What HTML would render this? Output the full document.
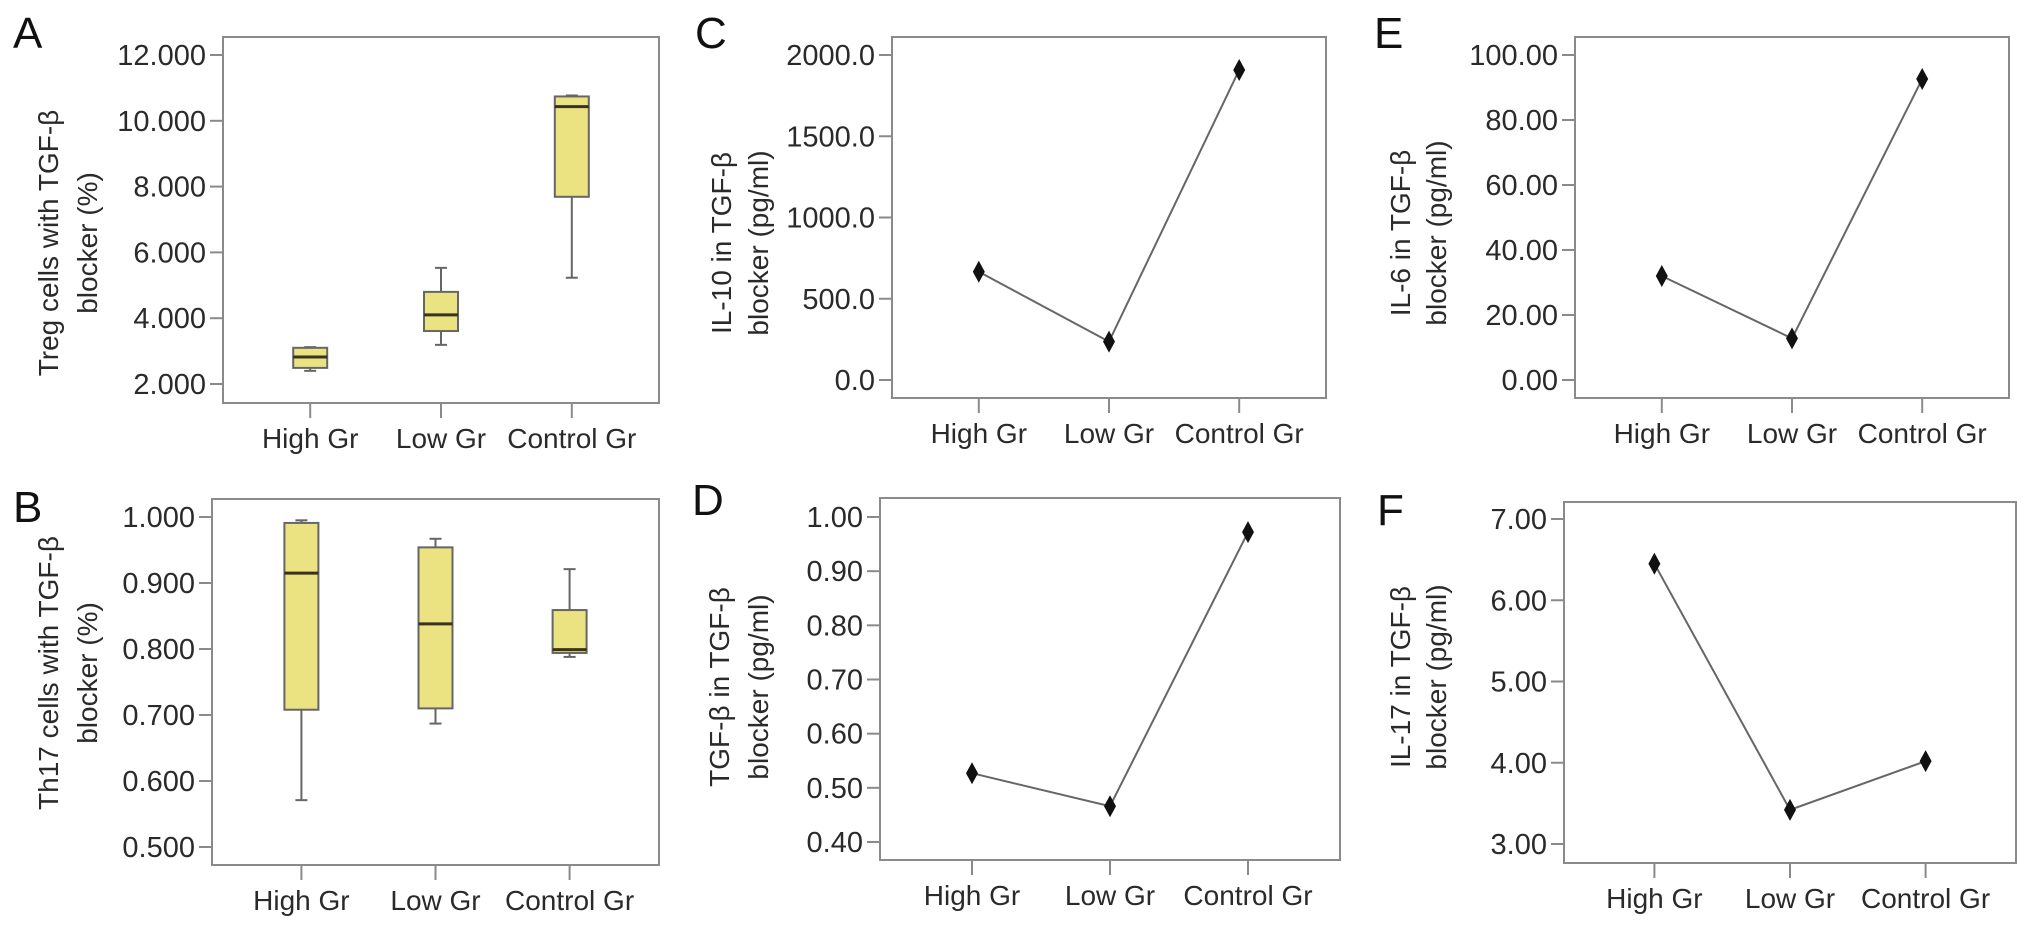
<!DOCTYPE html>
<html><head><meta charset="utf-8"><style>
html,body{margin:0;padding:0;background:#fff;}
svg{display:block;font-family:"Liberation Sans",Arial,sans-serif;}
</style></head><body>
<svg id="fig" width="2032" height="927" viewBox="0 0 2032 927" xmlns="http://www.w3.org/2000/svg"></svg>
<script>
const categories = ["High Gr","Low Gr","Control Gr"];
// Panel A box stats: [whiskerLow, q1, median, q3, whiskerHigh]
const treg = [[2.40,2.49,2.82,3.10,3.12],[3.19,3.61,4.10,4.80,5.53],[5.23,7.69,10.43,10.74,10.77]];
const tregTicks = ["2.000","4.000","6.000","8.000","10.000","12.000"];
const tregTickVals = [2,4,6,8,10,12];
// Panel B
const th17 = [[0.571,0.708,0.915,0.991,0.995],[0.687,0.710,0.838,0.954,0.967],[0.788,0.794,0.799,0.859,0.921]];
const th17Ticks = ["0.500","0.600","0.700","0.800","0.900","1.000"];
const th17TickVals = [0.5,0.6,0.7,0.8,0.9,1.0];
// Line panels
const il10 = [666,236,1908];
const il10Ticks = ["0.0","500.0","1000.0","1500.0","2000.0"];
const il10TickVals = [0,500,1000,1500,2000];
const tgfb = [0.527,0.466,0.972];
const tgfbTicks = ["0.40","0.50","0.60","0.70","0.80","0.90","1.00"];
const tgfbTickVals = [0.4,0.5,0.6,0.7,0.8,0.9,1.0];
const il6 = [32.0,12.8,92.6];
const il6Ticks = ["0.00","20.00","40.00","60.00","80.00","100.00"];
const il6TickVals = [0,20,40,60,80,100];
const il17 = [6.45,3.42,4.02];
const il17Ticks = ["3.00","4.00","5.00","6.00","7.00"];
const il17TickVals = [3,4,5,6,7];

const NS="http://www.w3.org/2000/svg";
const svg=document.getElementById('fig');
function el(tag,attrs,parent){const e=document.createElementNS(NS,tag);for(const k in attrs)e.setAttribute(k,attrs[k]);(parent||svg).appendChild(e);return e;}

function panel(cfg){
  const g=el('g',{});
  
  
  const L=cfg.frame[0],R=cfg.frame[1],T=cfg.frame[2],B=cfg.frame[3];
  const y=v=>cfg.yr[0]+(v-cfg.yv[0])*(cfg.yr[1]-cfg.yr[0])/(cfg.yv[1]-cfg.yv[0]);
  const x=i=>L+(R-L)*(0.2+0.3*i);
  const fr=el('rect',{x:L,y:T,width:R-L,height:B-T,fill:'none',stroke:'#8a8a8a','stroke-width':2},g);
  
  
  const lt=el('text',{x:cfg.letter[0],y:cfg.letter[1],'font-size':44,fill:'#111'},g);
  lt.textContent=cfg.letterText;
  
  
  cfg.tickVals.forEach((v,i)=>{
    const yy=y(v);
    el('line',{x1:L-13,x2:L,y1:yy,y2:yy,stroke:'#8a8a8a','stroke-width':2},g);
    const t=el('text',{x:L-17,y:yy+10,'font-size':29,'text-anchor':'end',fill:'#2a2a2a'},g);
    t.textContent=cfg.ticks[i];
    
    
  });
  categories.forEach((c,i)=>{
    const xx=x(i);
    el('line',{x1:xx,x2:xx,y1:B,y2:B+15,stroke:'#8a8a8a','stroke-width':2},g);
    const t=el('text',{x:xx,y:B+45,'font-size':28,'text-anchor':'middle',fill:'#2a2a2a'},g);
    t.textContent=c;
    
    
  });
  const tt=el('text',{transform:`translate(${cfg.title[0]},${cfg.title[2]}) rotate(-90)`,'font-size':28,'text-anchor':'middle',fill:'#2a2a2a'},g);
  
  
  const t1=el('tspan',{x:0,y:10},tt); t1.textContent=cfg.titleLines[0];
  const t2=el('tspan',{x:0,y:10+(cfg.title[1]-cfg.title[0])},tt); t2.textContent=cfg.titleLines[1];
  if(cfg.boxes){
    cfg.boxes.forEach((b,i)=>{
      const xx=x(i),hw=17;
      const bg=el('g',{},g);
      
      
      el('line',{x1:xx,x2:xx,y1:y(b[0]),y2:y(b[4]),stroke:'#666','stroke-width':2},bg);
      el('line',{x1:xx-6,x2:xx+6,y1:y(b[0]),y2:y(b[0]),stroke:'#666','stroke-width':2},bg);
      el('line',{x1:xx-6,x2:xx+6,y1:y(b[4]),y2:y(b[4]),stroke:'#666','stroke-width':2},bg);
      el('rect',{x:xx-hw,y:y(b[3]),width:2*hw,height:y(b[1])-y(b[3]),fill:'#ebe281',stroke:'#666','stroke-width':2},bg);
      el('line',{x1:xx-hw,x2:xx+hw,y1:y(b[2]),y2:y(b[2]),stroke:'#3a3220','stroke-width':3},bg);
    });
  }
  if(cfg.line){
    const pts=cfg.line.map((v,i)=>x(i)+','+y(v)).join(' ');
    const pl=el('polyline',{points:pts,fill:'none',stroke:'#666','stroke-width':2},g);
    
    
    cfg.line.forEach((v,i)=>{
      const xx=x(i),yy=y(v);
      const m=el('polygon',{points:`${xx},${yy-11} ${xx+6},${yy} ${xx},${yy+11} ${xx-6},${yy}`,fill:'#111'},g);
      
      
    });
  }
}

panel({name:'panel-a-treg',letterText:'A',letter:[13,48],frame:[223,659,37,403],yr:[384,55],yv:[2,12],ticks:tregTicks,tickVals:tregTickVals,title:[48,87,243],titleLines:['Treg cells with TGF-β','blocker (%)'],boxes:treg});
panel({name:'panel-b-th17',letterText:'B',letter:[13,522],frame:[212,659,499,865],yr:[847,517],yv:[0.5,1.0],ticks:th17Ticks,tickVals:th17TickVals,title:[48,87,673],titleLines:['Th17 cells with TGF-β','blocker (%)'],boxes:th17});
panel({name:'panel-c-il10',letterText:'C',letter:[695,48],frame:[892,1326,37,398],yr:[380,55],yv:[0,2000],ticks:il10Ticks,tickVals:il10TickVals,title:[721,758,243],titleLines:['IL-10 in TGF-β','blocker (pg/ml)'],line:il10});
panel({name:'panel-d-tgfb',letterText:'D',letter:[692,515],frame:[880,1340,498,860],yr:[842,517],yv:[0.4,1.0],ticks:tgfbTicks,tickVals:tgfbTickVals,title:[719,758,687],titleLines:['TGF-β in TGF-β','blocker (pg/ml)'],line:tgfb});
panel({name:'panel-e-il6',letterText:'E',letter:[1374,48],frame:[1575,2009,37,398],yr:[380,55],yv:[0,100],ticks:il6Ticks,tickVals:il6TickVals,title:[1400,1436,233],titleLines:['IL-6 in TGF-β','blocker (pg/ml)'],line:il6});
panel({name:'panel-f-il17',letterText:'F',letter:[1377,525],frame:[1564,2016,502,863],yr:[844,519],yv:[3,7],ticks:il17Ticks,tickVals:il17TickVals,title:[1400,1436,677],titleLines:['IL-17 in TGF-β','blocker (pg/ml)'],line:il17});
</script>
</body></html>
